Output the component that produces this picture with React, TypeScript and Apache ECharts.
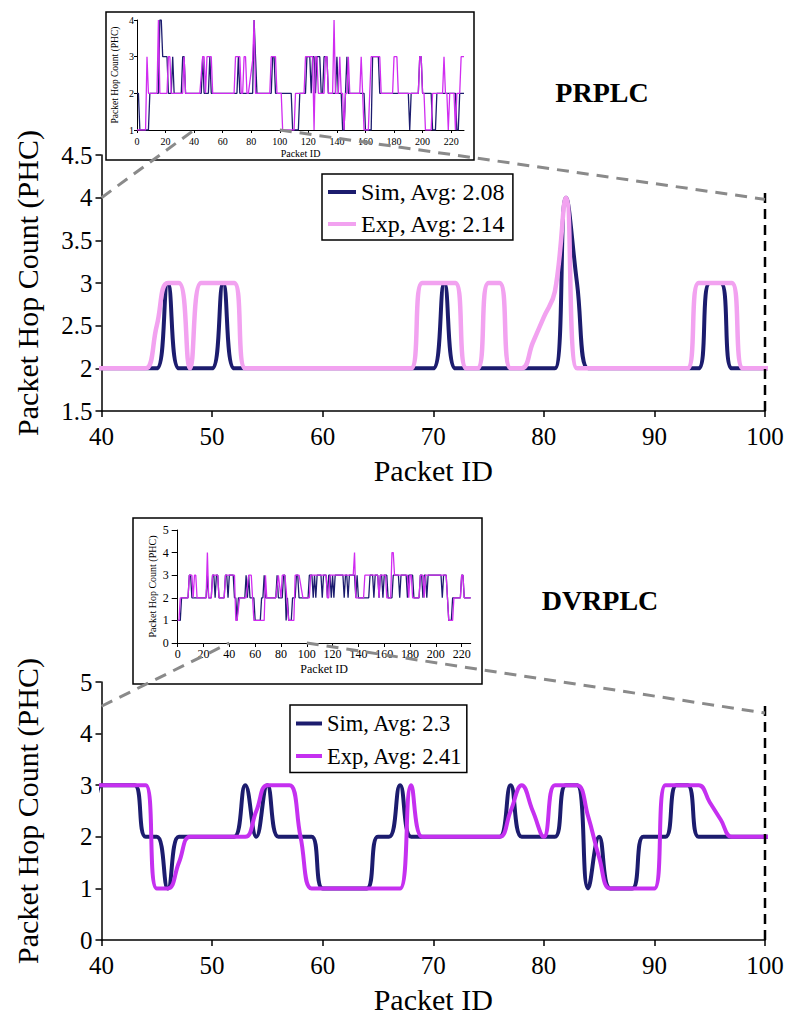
import React, { useEffect, useRef } from "react";
import * as echarts from "echarts";

const FONT = "Liberation Serif";

// PRPLC, packet hop count per packet ID (0..229)
const PRPLC_SIM: number[] = [
  2, 2, 1, 1, 1, 1, 1, 1, 1, 2,
  2, 2, 2, 2, 2, 2, 4, 4, 3, 3,
  3, 3, 2, 2, 2, 3, 2, 2, 2, 2,
  2, 2, 3, 3, 2, 2, 2, 2, 2, 2,
  2, 2, 2, 2, 2, 2, 3, 2, 2, 2,
  2, 3, 2, 2, 2, 2, 2, 2, 2, 2,
  2, 2, 2, 2, 2, 2, 2, 2, 2, 2,
  2, 3, 2, 2, 2, 2, 2, 2, 2, 2,
  2, 2, 4, 3, 2, 2, 2, 2, 2, 2,
  2, 2, 2, 2, 2, 3, 3, 2, 2, 2,
  2, 2, 2, 2, 2, 2, 2, 2, 2, 1,
  1, 1, 1, 1, 2, 2, 2, 2, 2, 3,
  3, 3, 2, 3, 3, 2, 3, 3, 3, 2,
  2, 3, 3, 3, 2, 2, 2, 2, 2, 2,
  3, 2, 2, 2, 1, 1, 2, 3, 2, 2,
  2, 2, 2, 2, 2, 2, 2, 2, 2, 2,
  1, 1, 1, 1, 1, 3, 3, 3, 3, 3,
  2, 2, 2, 2, 2, 2, 2, 2, 2, 2,
  2, 2, 2, 2, 2, 2, 2, 2, 2, 2,
  2, 1, 2, 2, 2, 2, 2, 2, 3, 3,
  2, 2, 2, 2, 2, 2, 2, 1, 1, 1,
  2, 2, 2, 2, 2, 2, 2, 2, 2, 2,
  2, 2, 2, 2, 1, 1, 2, 2, 2, 2,
];
const PRPLC_EXP: number[] = [
  1, 1, 1, 1, 1, 1, 1, 3, 2, 2,
  2, 2, 2, 2, 2, 4, 2, 2, 2, 2,
  2, 2, 3, 3, 2, 2, 2, 2, 2, 2,
  2, 2, 2, 3, 2, 2, 2, 2, 2, 2,
  2, 2, 2, 2, 2, 2.5, 3, 3, 2, 3,
  3, 3, 3, 2, 2, 2, 2, 2, 2, 2,
  2, 2, 2, 2, 2, 2, 2, 2, 2, 3,
  3, 3, 3, 2, 2, 3, 3, 2, 2, 2.3,
  2.6, 2.9, 4, 2, 2, 2, 2, 2, 2, 2,
  2, 2, 2, 2, 3, 3, 3, 3, 2, 2,
  2, 2, 1, 1, 1, 1, 1, 1, 1, 1,
  1, 2, 2, 2, 2, 2, 2, 2, 3, 3,
  3, 3, 3, 3, 1, 3, 3, 2, 2, 2,
  2, 2, 3, 3, 2, 2, 2, 2, 4, 2,
  2, 2, 3, 2, 2, 1, 2, 2, 3, 2,
  2, 2, 2, 2, 2, 2, 2, 3, 2, 1,
  1, 1, 1, 2, 3, 3, 3, 3, 3, 3,
  3, 2, 2, 2, 2, 2, 2, 2, 2, 2,
  3, 3, 3, 2, 2, 2, 2, 2, 2, 2,
  2, 2, 2, 2, 2, 2, 2, 2, 3, 3,
  2, 2, 1, 1, 1, 1, 1, 2, 2, 2,
  2, 2, 2, 2, 2, 3, 2, 2, 1, 2,
  2, 2, 2, 1, 2, 2, 2, 3, 3, 3,
];

// DVRPLC, packet hop count per packet ID (0..227)
const DVRPLC_SIM: number[] = [
  1, 1, 1, 2, 2, 2, 2, 2, 2, 3,
  3, 2, 2, 2, 2, 2, 2, 2, 2, 2,
  2, 2, 2, 3, 2, 2, 2, 3, 3, 2,
  3, 3, 2, 2, 2, 2, 2, 3, 3, 2,
  3, 3, 3, 3, 2, 2, 1, 2, 2, 2,
  2, 2, 2, 3, 2, 3, 2, 2, 2, 2,
  1, 1, 1, 1, 1, 2, 2, 3, 2, 2,
  2, 2, 2, 2, 2, 2, 2, 3, 2, 2,
  2, 2, 3, 3, 1, 2, 1, 1, 1, 2,
  2, 2, 3, 3, 2, 2, 2, 2, 2, 2,
  2, 2, 3, 3, 3, 2, 3, 2, 3, 3,
  3, 3, 2, 3, 3, 3, 2, 3, 3, 2,
  3, 2, 3, 3, 3, 3, 3, 3, 3, 2,
  3, 3, 2, 3, 3, 3, 3, 3, 2, 3,
  2, 2, 2, 2, 2, 2, 2, 2, 2, 3,
  3, 3, 2, 3, 3, 3, 2, 3, 3, 2,
  3, 3, 3, 2, 2, 2, 2, 3, 3, 3,
  3, 3, 2, 3, 3, 3, 3, 3, 2, 3,
  3, 3, 3, 2, 2, 2, 2, 2, 3, 3,
  2, 3, 3, 2, 3, 3, 3, 3, 3, 3,
  3, 3, 3, 3, 3, 2, 3, 3, 3, 2,
  1, 1, 1, 2, 2, 2, 2, 2, 2, 2,
  3, 3, 2, 2, 2, 2, 2, 2,
];
const DVRPLC_EXP: number[] = [
  1, 1, 2, 2, 2, 2, 2, 2, 2, 3,
  3, 3, 2, 3, 3, 2, 2, 2, 2, 2,
  2, 2, 2, 4, 2, 2, 2, 3, 3, 3,
  3, 3, 2, 2, 2, 2, 2, 3, 3, 3,
  3, 3, 3, 3, 3, 1, 1, 1.5, 2, 2,
  2, 2, 2, 2, 2.5, 3, 3, 3, 2, 1,
  1, 1, 1, 1, 1, 1, 1, 1, 3, 2,
  2, 2, 2, 2, 2, 2, 2, 2.5, 3, 2.5,
  2, 3, 3, 3, 2.4, 1.6, 1, 1, 1, 1,
  1, 3, 3, 3, 3, 2.67, 2.33, 2, 2, 2,
  2, 2, 2, 3, 3, 3, 3, 3, 3, 3,
  3, 3, 3, 3, 3, 3, 2, 2, 3, 3,
  3, 3, 3, 3, 3, 3, 3, 3, 3, 3,
  3, 3, 3, 3, 3, 3, 3, 4, 2, 2,
  2, 2, 2, 2, 2, 3, 3, 3, 3, 3,
  3, 3, 3, 3, 3, 3, 2, 3, 3, 3,
  3, 3, 2, 2, 2, 2, 4, 4, 3, 3,
  3, 3, 3, 3, 3, 3, 3, 3, 3, 2,
  3, 3, 2, 2, 2, 2, 2, 2, 3, 3,
  3, 2, 3, 3, 3, 3, 3, 3, 3, 3,
  3, 3, 3, 3, 3, 3, 3, 3, 3, 2,
  1, 1, 1, 1, 2, 2, 2, 2, 2, 2,
  3, 3, 2, 2, 2, 2, 2, 2,
];

const INSET_X_TICKS = [0, 20, 40, 60, 80, 100, 120, 140, 160, 180, 200, 220];
const LEGEND_PRPLC = ["Sim, Avg: 2.08", "Exp, Avg: 2.14"];
const LEGEND_DVRPLC = ["Sim, Avg: 2.3", "Exp, Avg: 2.41"];
const TITLES = ["PRPLC", "DVRPLC"];
const ZOOM_FROM = 40;
const ZOOM_TO = 100;

const NAVY = "#1c1c6e";
const PINK_LIGHT = "#f2a2f0";
const MAGENTA = "#c530f0";
const INSET_MAGENTA = "#d02cf0";
const GRAY = "#8a8a8a";

const pairs = (a: number[]) => a.map((v, i) => [i, v]);

function mainX(gridIndex: number) {
  return {
    type: "value",
    gridIndex,
    min: ZOOM_FROM,
    max: ZOOM_TO,
    interval: 10,
    axisLine: { show: true, onZero: false, lineStyle: { color: "#000", width: 1.5 } },
    axisTick: { show: true, length: 6, lineStyle: { color: "#000", width: 1.5 } },
    axisLabel: { color: "#000", fontFamily: FONT, fontSize: 25, margin: 13 },
    splitLine: { show: false },
    name: "Packet ID",
    nameLocation: "middle",
    nameGap: 44,
    nameTextStyle: { color: "#000", fontFamily: FONT, fontSize: 30 },
  };
}
function mainY(gridIndex: number, min: number, max: number, interval: number) {
  return {
    type: "value",
    gridIndex,
    min,
    max,
    interval,
    axisLine: { show: true, onZero: false, lineStyle: { color: "#000", width: 1.5 } },
    axisTick: { show: true, length: 6, lineStyle: { color: "#000", width: 1.5 } },
    axisLabel: { color: "#000", fontFamily: FONT, fontSize: 25, margin: 9 },
    splitLine: { show: false },
    name: "Packet Hop Count (PHC)",
    nameLocation: "middle",
    nameRotate: 90,
    nameGap: 59,
    nameTextStyle: { color: "#000", fontFamily: FONT, fontSize: 30 },
  };
}
function insetX(gridIndex: number, max: number, fs: number, margin: number, nameGap: number, tick: number) {
  return {
    type: "value",
    gridIndex,
    min: 0,
    max,
    axisLine: { show: true, onZero: false, lineStyle: { color: "#000", width: 1 } },
    axisTick: { show: true, length: tick, customValues: INSET_X_TICKS, lineStyle: { color: "#000", width: 1 } },
    axisLabel: { color: "#000", fontFamily: FONT, fontSize: fs, margin, customValues: INSET_X_TICKS },
    splitLine: { show: false },
    name: "Packet ID",
    nameLocation: "middle",
    nameGap,
    nameTextStyle: { color: "#000", fontFamily: FONT, fontSize: fs },
  };
}
function insetY(gridIndex: number, min: number, max: number, fs: number, margin: number, nameGap: number, nfs: number, tick: number) {
  return {
    type: "value",
    gridIndex,
    min,
    max,
    interval: 1,
    axisLine: { show: true, onZero: false, lineStyle: { color: "#000", width: 1 } },
    axisTick: { show: true, length: tick, lineStyle: { color: "#000", width: 1 } },
    axisLabel: { color: "#000", fontFamily: FONT, fontSize: fs, margin },
    splitLine: { show: false },
    name: "Packet Hop Count (PHC)",
    nameLocation: "middle",
    nameRotate: 90,
    nameGap,
    nameTextStyle: { color: "#000", fontFamily: FONT, fontSize: nfs },
  };
}

function lineSeries(name: string, idx: number, data: number[], color: string, width: number, smooth: number | false, z: number) {
  return {
    type: "line",
    name,
    xAxisIndex: idx,
    yAxisIndex: idx,
    data: pairs(data),
    smooth,
    symbol: "none",
    showSymbol: false,
    lineStyle: { color, width },
    itemStyle: { color },
    z,
    silent: true,
  };
}

function legend(names: string[], left: number, top: number, fs: number, itemWidth: number, gap: number, padding: number[]) {
  return {
    orient: "vertical",
    left,
    top,
    data: names,
    icon: "rect",
    itemWidth,
    itemHeight: 4,
    itemGap: gap,
    padding,
    borderColor: "#000",
    borderWidth: 1.5,
    backgroundColor: "#fff",
    selectedMode: false,
    textStyle: { color: "#000", fontFamily: FONT, fontSize: fs },
  };
}

export default function App() {
  const ref = useRef<HTMLDivElement>(null);
  useEffect(() => {
    const chart = echarts.init(ref.current!, null, { renderer: "svg" });
    chart.setOption({
      animation: false,
      backgroundColor: "#fff",
      textStyle: { fontFamily: FONT },
      grid: [
        { left: 101.5, top: 155, width: 663.5, height: 256 },
        { left: 137, top: 20, width: 327, height: 110 },
        { left: 101.5, top: 682, width: 663.5, height: 258 },
        { left: 177.7, top: 530, width: 293, height: 113 },
      ],
      xAxis: [
        mainX(0),
        insetX(1, 229, 10, 6, 18, 3),
        mainX(2),
        insetX(3, 227, 12, 5, 20, 4),
      ],
      yAxis: [
        mainY(0, 1.5, 4.5, 0.5),
        insetY(1, 1, 4, 10, 3, 17, 9.5, 3),
        mainY(2, 0, 5, 1),
        insetY(3, 0, 5, 12, 9, 20, 10, 6),
      ],
      legend: [
        legend(LEGEND_PRPLC, 322, 174, 24, 28, 8, [6, 7, 4, 6]),
        legend(LEGEND_DVRPLC, 290, 705, 22.5, 26, 9.5, [7, 4, 5, 6]),
      ],
      series: [
        lineSeries(LEGEND_PRPLC[0], 0, PRPLC_SIM, NAVY, 4, 0.45, 2),
        lineSeries(LEGEND_PRPLC[1], 0, PRPLC_EXP, PINK_LIGHT, 4.5, 0.45, 3),
        lineSeries("PRPLC Sim (all)", 1, PRPLC_SIM, NAVY, 1.3, false, 2),
        lineSeries("PRPLC Exp (all)", 1, PRPLC_EXP, INSET_MAGENTA, 1.3, false, 3),
        lineSeries(LEGEND_DVRPLC[0], 2, DVRPLC_SIM, NAVY, 4, 0.45, 2),
        lineSeries(LEGEND_DVRPLC[1], 2, DVRPLC_EXP, MAGENTA, 4, 0.45, 3),
        lineSeries("DVRPLC Sim (all)", 3, DVRPLC_SIM, NAVY, 1.3, false, 2),
        lineSeries("DVRPLC Exp (all)", 3, DVRPLC_EXP, INSET_MAGENTA, 1.3, false, 3),
        {
          type: "line", name: "bound-top", xAxisIndex: 0, yAxisIndex: 0,
          data: [[ZOOM_TO, 1.5], [ZOOM_TO, 4.11]], symbol: "none", clip: false, silent: true,
          lineStyle: { color: "#000", width: 2.5, type: [10, 6] }, z: 4,
        },
        {
          type: "line", name: "bound-bottom", xAxisIndex: 2, yAxisIndex: 2,
          data: [[ZOOM_TO, 0], [ZOOM_TO, 4.65]], symbol: "none", clip: false, silent: true,
          lineStyle: { color: "#000", width: 2.5, type: [10, 6] }, z: 4,
        },
      ],
    });

    const px = (g: number, x: number, y: number) => chart.convertToPixel({ gridIndex: g } as any, [x, y]) as number[];
    const conn = (a: number[], b: number[]) => ({
      type: "line",
      shape: { x1: a[0], y1: a[1], x2: b[0], y2: b[1] },
      style: { stroke: GRAY, lineWidth: 3, lineDash: [12, 8] },
      z: 100,
      silent: true,
    });
    chart.setOption({
      graphic: [
        { type: "rect", shape: { x: 106, y: 12, width: 368, height: 148 }, style: { fill: "#fff", stroke: "#000", lineWidth: 1.5 }, z: -1 },
        { type: "rect", shape: { x: 133, y: 518, width: 349, height: 166 }, style: { fill: "#fff", stroke: "#000", lineWidth: 1.5 }, z: -1 },
        conn(px(0, ZOOM_FROM, 4.0), px(1, ZOOM_FROM, 1)),
        conn(px(1, ZOOM_TO, 1), px(0, ZOOM_TO, 3.98)),
        conn(px(2, ZOOM_FROM, 4.53), px(3, ZOOM_FROM, 0)),
        conn(px(3, ZOOM_TO, 0), px(2, ZOOM_TO, 4.4)),
        {
          type: "text", x: 602, y: 92,
          style: { text: TITLES[0], font: `bold 28px ${FONT}`, fill: "#000", align: "center", verticalAlign: "middle" },
        },
        {
          type: "text", x: 600, y: 600,
          style: { text: TITLES[1], font: `bold 28px ${FONT}`, fill: "#000", align: "center", verticalAlign: "middle" },
        },
      ],
    });
    return () => chart.dispose();
  }, []);
  return <div ref={ref} style={{ position: "absolute", left: 0, top: 0, width: 800, height: 1030 }} />;
}
